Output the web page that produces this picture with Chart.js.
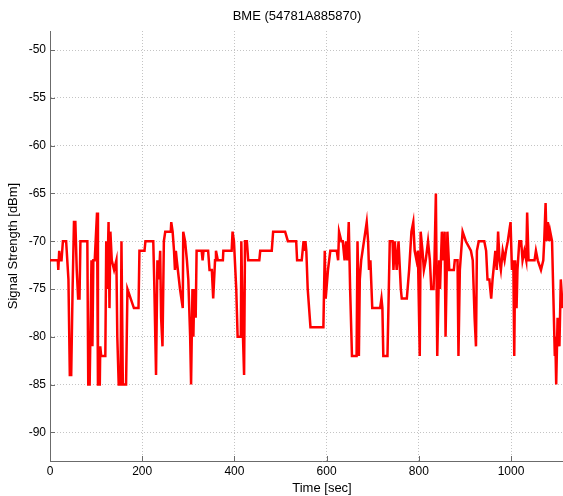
<!DOCTYPE html>
<html>
<head>
<meta charset="utf-8">
<script src="https://cdn.jsdelivr.net/npm/chart.js@4.4.0/dist/chart.umd.min.js"></script>
<style>
  html, body { margin: 0; background: #fff; overflow: hidden; }
  /* the original figure is cropped on the right, so the canvas is a bit wider than the window */
  canvas { display: block; }
</style>
</head>
<body>
<canvas id="myChart" width="594" height="497"></canvas>
<script>
// time [sec] and signal strength [dBm]
const times = [0, 17, 18, 20, 22, 25, 28, 35, 40, 43, 46, 49, 52, 55, 58, 61, 64, 66, 81, 83, 86, 90, 92, 94, 97,
  102, 104, 108, 109, 111, 120, 122, 124, 127, 129, 131, 134, 139, 144, 146, 149, 153, 155, 158, 165, 168, 182, 192, 194,
  205, 207, 217, 224, 226, 230, 233, 236, 239, 241, 244, 247, 250, 262, 263, 266, 269, 271, 273, 275, 282, 288, 289, 293,
  297, 300, 304, 306, 309, 311, 313, 316, 318, 329, 331, 333, 343, 346, 351, 354, 358, 360, 364, 375, 376, 394, 396, 399,
  404, 407, 414, 415, 418, 421, 423, 427, 430, 445, 454, 456, 481, 484, 510, 516, 534, 536, 546, 550, 552, 554, 556, 559,
  565, 593, 596, 598, 603, 608, 622, 625, 627, 632, 635, 639, 642, 645, 648, 651, 655, 662, 665, 667, 669, 670, 672, 675,
  681, 687, 690, 692, 695, 699, 716, 719, 721, 723, 732, 737, 743, 745, 748, 752, 756, 761, 763, 774, 779, 784, 788, 791,
  795, 798, 802, 804, 808, 811, 815, 820, 824, 827, 832, 834, 837, 840, 844, 846, 850, 853, 856, 858, 862, 866, 876, 878,
  884, 886, 889, 895, 902, 913, 917, 921, 924, 926, 930, 942, 946, 949, 953, 957, 960, 966, 969, 972, 975, 978, 982, 986,
  989, 993, 996, 999, 1002, 1005, 1007, 1009, 1012, 1014, 1018, 1022, 1025, 1029, 1033, 1035, 1038, 1051, 1054, 1058, 1065,
  1070, 1072, 1075, 1077, 1080, 1083, 1085, 1089, 1092, 1095, 1096, 1098, 1101, 1105, 1108, 1112];
const rssi = [-72, -72, -73, -71, -72, -72, -70, -70, -74, -84, -84, -75, -68, -68, -73, -76, -76, -70, -70, -85, -85, -72, -81, -72, -72,
  -67, -85, -85, -81, -82, -82, -70, -75, -68, -77, -69, -72, -73, -72, -80, -85, -85, -70, -85, -85, -75, -77, -77, -71,
  -71, -70, -70, -70, -74, -84, -72, -74, -71, -78, -81, -70, -69, -69, -68, -69, -71, -73, -71, -72, -75, -77, -69, -70,
  -72, -74, -80, -85, -75, -80, -75, -78, -71, -71, -72, -71, -71, -73, -73, -76, -72, -71, -72, -72, -71, -71, -69, -70,
  -75, -80, -80, -70, -79, -84, -70, -70, -72, -72, -72, -71, -71, -69, -69, -70, -70, -72, -72, -70, -71, -70, -71, -75,
  -79, -79, -71, -76, -73, -71, -71, -72, -69, -70, -70, -72, -70, -72, -68, -75, -82, -82, -82, -70, -75, -82, -74, -72,
  -70, -68, -70, -73, -72, -77, -77, -76, -77, -82, -82, -70, -70, -73, -70, -73, -70, -75, -76, -76, -73, -69, -68, -71,
  -72, -71, -82, -69, -71, -73, -72, -70, -72, -75, -75, -72, -65, -82, -72, -75, -69, -72, -69, -80, -69, -73, -73, -72,
  -72, -82, -73, -69, -70, -71, -72, -78, -81, -71, -70, -70, -71, -74, -74, -76, -74, -71, -73, -69, -72, -73, -71, -72,
  -71, -70, -69, -68, -73, -72, -82, -72, -77, -73, -70, -70, -72, -71, -72, -67, -72, -72, -71, -72, -73,
  -72, -70, -66, -70, -68, -70, -69, -70, -76, -82, -80, -85, -78, -81, -74, -77];

const xTicks = [0, 200, 400, 600, 800, 1000];
const yTicks = [-90, -85, -80, -75, -70, -65, -60, -55, -50];

const axisColor = "#6b6b6b";
const gridColor = "#c4c4c4";
const font = "'Liberation Sans', Arial, sans-serif";

const points = [];
for (var i = 0; i < times.length; i++) {
    points.push({x: times[i], y: rssi[i]});
}

// matlab style tick marks drawn inside the axes
const innerTicks = {
    id: "innerTicks",
    afterDatasetsDraw(chart) {
        const ctx = chart.ctx;
        const xs = chart.scales.x, ys = chart.scales.y;
        const area = chart.chartArea;
        ctx.save();
        ctx.strokeStyle = axisColor;
        ctx.lineWidth = 1;
        ctx.beginPath();
        xTicks.forEach(v => {
            const px = Math.round(xs.getPixelForValue(v)) + 0.5;
            ctx.moveTo(px, area.bottom);
            ctx.lineTo(px, area.bottom - 5);
        });
        yTicks.forEach(v => {
            const py = Math.round(ys.getPixelForValue(v)) + 0.5;
            ctx.moveTo(area.left, py);
            ctx.lineTo(area.left + 5, py);
        });
        ctx.stroke();
        ctx.restore();
    }
};

const ctx = document.getElementById("myChart").getContext("2d");
new Chart(ctx, {
    type: "line",
    data: {
        datasets: [{
            label: "BME",
            data: points,
            borderColor: "#ff0000",
            borderWidth: 2.5,
            pointRadius: 0,
            tension: 0,
            fill: false
        }]
    },
    options: {
        responsive: false,
        animation: false,
        layout: {padding: 0},
        plugins: {
            legend: {display: false},
            tooltip: {enabled: false},
            title: {
                display: true,
                text: "BME (54781A885870)",
                color: "#000",
                font: {family: font, size: 13, weight: "normal", lineHeight: 1.2},
                padding: {top: 9, bottom: 6.4}
            }
        },
        scales: {
            x: {
                type: "linear",
                min: 0,
                max: 1180,
                afterBuildTicks: s => { s.ticks = xTicks.map(v => ({value: v})); },
                afterFit: s => { s.height = 36; },
                grid: {color: gridColor, lineWidth: 1, drawTicks: false},
                border: {display: true, color: axisColor, width: 1, dash: [1, 2]},
                ticks: {color: "#000", padding: 3, maxRotation: 0, font: {family: font, size: 12},
                    callback: v => String(v)},
                title: {display: true, text: "Time [sec]", color: "#000",
                    font: {family: font, size: 13, lineHeight: 1.2}, padding: {top: 0, bottom: 1}}
            },
            y: {
                type: "linear",
                min: -93,
                max: -48,
                afterBuildTicks: s => { s.ticks = yTicks.map(v => ({value: v})); },
                afterFit: s => { s.width = 50; },
                grid: {color: gridColor, lineWidth: 1, drawTicks: false},
                border: {display: true, color: axisColor, width: 1, dash: [1, 2]},
                ticks: {color: "#000", padding: 4, font: {family: font, size: 12},
                    callback: v => String(v)},
                title: {display: true, text: "Signal Strength [dBm]", color: "#000",
                    font: {family: font, size: 13, lineHeight: 1.2}, padding: {top: 6, bottom: 0}}
            }
        }
    },
    plugins: [innerTicks]
});
</script>
</body>
</html>
